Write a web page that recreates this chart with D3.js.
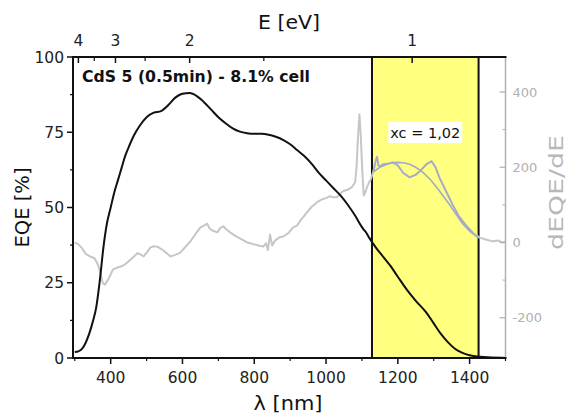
<!DOCTYPE html>
<html><head><meta charset="utf-8">
<script src="https://cdn.jsdelivr.net/npm/d3@7"></script>
<style>body{margin:0;background:#fff}svg{display:block}text{font-family:"DejaVu Sans",sans-serif}</style>
</head><body><div id="chart"></div>
<script>
// ---- data ----
const wl  = [300,310,320,330,340,350,360,370,380,390,400,410,420,430,440,450,465,480,500,520,540,560,580,600,620,640,660,680,700,720,740,760,780,800,820,840,860,880,900,920,940,960,980,1000,1020,1040,1060,1080,1100,1106,1110,1120,1140,1160,1180,1200,1225,1250,1280,1300,1320,1340,1360,1380,1400,1430,1460,1500];
const eqe = [2,2.2,3,5,8,12,17,26,37,45,50,55,59,63,67,70,74,77,80,81.5,82,84,86.5,87.8,88,87,85,82.5,80,78,76.3,75.2,74.7,74.5,74.5,74.2,73.5,72.5,71,69,67,64.5,61.5,59,56.5,54,51,47.5,43.5,42.5,42,40,36.5,33.5,30.5,27,22.7,19,15,11.5,8,5.2,3,1.7,0.9,0.4,0.2,0];
const dWl  = [300,310,320,330,345,355,365,372,378,384,392,400,406,415,428,440,450,462,475,485,492,502,511,520,530,545,558,567,580,594,608,622,636,650,660,669,675,683,697,705,714,722,733,742,752,765,780,789,800,812,825,833,838,844,850,858,870,881,895,908,919,930,947,960,975,990,1000,1011,1020,1030,1040,1047,1060,1072,1081,1085,1089,1093,1097,1101,1105,1110,1114,1120,1125,1132,1138,1142,1146,1150,1160,1175,1186,1200,1215,1233,1250,1261,1280,1294,1305,1317,1335,1353,1370,1392,1410,1428,1445,1464,1480,1492,1500];
const dEqe = [0,-5,-15,-30,-38,-42,-60,-85,-108,-112,-100,-85,-72,-68,-64,-58,-50,-40,-28,-33,-37,-25,-13,-10,-11,-20,-30,-37,-33,-27,-12,3,22,40,45,50,38,32,27,38,43,35,27,21,15,8,0,-2,-5,-8,-11,-2,-20,21,-8,5,14,16,25,40,45,60,80,95,107,115,118,123,120,120,130,136,140,147,160,200,280,341,280,190,125,135,147,160,168,190,215,228,205,203,208,210,213,205,185,173,180,189,208,216,200,170,135,100,70,43,25,13,8,3,5,0,2];
const fitWl  = [1131,1150,1175,1197,1215,1233,1250,1269,1290,1308,1326,1344,1360,1378,1400,1419,1425];
const fitVal = [187,200,210,213,212,208,200,187,168,147,124,101,78,53,30,16,12];
const highlight = [1128, 1425];           // yellow band, nm
const xTicks = [400,600,800,1000,1200,1400];
const xMinor = [300,500,700,900,1100,1300,1500];
const yTicks = [0,25,50,75,100];
const yMinor = [12.5,37.5,62.5,87.5];
const y2Ticks = [-200,0,200,400];
const y2Labels = ["-200","0","200","400"];
const y2Minor = [-100,100,300];
const eTicks = [4,3,2,1];
const eMinor = [3.5,2.5,1.5];
const titleText = "CdS 5 (0.5min) - 8.1% cell";
const fitText = "xc = 1,02";

// ---- layout ----
const W=571,H=417;
const svg=d3.select("#chart").append("svg").attr("width",W).attr("height",H);
const x=d3.scaleLinear().domain([295,1500]).range([73,505.5]);
const y=d3.scaleLinear().domain([0,100]).range([358,57]);
const y2=d3.scaleLinear().domain([-307,493]).range([358,57]);
const ex=e=>x(1240/e);
const L=73,R=505.5,T=57,B=358;
const gray="#c6c6c6", axGray="#b0b0b0", blueGray="#a3a9c9";

// highlight band
svg.append("rect").attr("x",x(highlight[0])).attr("y",T).attr("width",x(highlight[1])-x(highlight[0])).attr("height",B-T)
  .attr("fill","#ffff80").attr("stroke","#111").attr("stroke-width",2);

// curves
const lineD=d3.line().x(d=>x(d[0])).y(d=>y2(d[1])).curve(d3.curveLinear);
const dPts=dWl.map((w,i)=>[w,dEqe[i]]);
svg.append("path").attr("d",lineD(dPts)).attr("fill","none").attr("stroke",gray).attr("stroke-width",2).attr("stroke-linejoin","round");
svg.append("path").attr("d",lineD(dPts.filter(p=>p[0]>=highlight[0]&&p[0]<=highlight[1]))).attr("fill","none").attr("stroke",blueGray).attr("stroke-width",1.6);
svg.append("path").attr("d",lineD(fitWl.map((w,i)=>[w,fitVal[i]]))).attr("fill","none").attr("stroke",blueGray).attr("stroke-width",1.6);

const lineE=d3.line().x(d=>x(d[0])).y(d=>y(d[1])).curve(d3.curveMonotoneX);
svg.append("path").attr("d",lineE(wl.map((w,i)=>[w,eqe[i]]))).attr("fill","none").attr("stroke","#111").attr("stroke-width",2);

// fit label
const fx=(x(highlight[0])+x(highlight[1]))/2;
svg.append("rect").attr("x",fx-37).attr("y",122).attr("width",74).attr("height",21).attr("fill","#fff");
svg.append("text").attr("x",fx).attr("y",138).attr("text-anchor","middle").attr("font-size",14.5).attr("fill","#111").text(fitText);

// right axis (gray)
svg.append("line").attr("x1",R).attr("x2",R).attr("y1",T).attr("y2",B).attr("stroke",axGray).attr("stroke-width",1.5);
y2Ticks.forEach((v,i)=>{
  svg.append("line").attr("x1",R-6).attr("x2",R).attr("y1",y2(v)).attr("y2",y2(v)).attr("stroke",axGray).attr("stroke-width",1.2);
  svg.append("text").attr("x",R+7).attr("y",y2(v)).attr("dy","0.35em").attr("font-size",13).attr("fill",axGray).text(y2Labels[i]);
});
y2Minor.forEach(v=>svg.append("line").attr("x1",R-3).attr("x2",R).attr("y1",y2(v)).attr("y2",y2(v)).attr("stroke",axGray).attr("stroke-width",1));
svg.append("text").attr("transform",`translate(563,${(T+B)/2-15}) rotate(-90)`).attr("text-anchor","middle").attr("font-size",20)
  .attr("fill","#b8b8b8").attr("textLength",115).attr("lengthAdjust","spacingAndGlyphs").text("dEQE/dE");

// frame black lines
const blk="#111";
svg.append("line").attr("x1",L).attr("x2",R+1).attr("y1",T).attr("y2",T).attr("stroke",blk).attr("stroke-width",2);
svg.append("line").attr("x1",L).attr("x2",R+1).attr("y1",B).attr("y2",B).attr("stroke",blk).attr("stroke-width",2);
svg.append("line").attr("x1",L).attr("x2",L).attr("y1",T-1).attr("y2",B+1).attr("stroke",blk).attr("stroke-width",2);

// left axis
yTicks.forEach(v=>{
  svg.append("line").attr("x1",L-6).attr("x2",L).attr("y1",y(v)).attr("y2",y(v)).attr("stroke",blk).attr("stroke-width",1.5);
  svg.append("text").attr("x",L-9).attr("y",y(v)).attr("dy","0.36em").attr("text-anchor","end").attr("font-size",15.5).attr("fill","#222").text(v);
});
yMinor.forEach(v=>svg.append("line").attr("x1",L-3).attr("x2",L).attr("y1",y(v)).attr("y2",y(v)).attr("stroke",blk).attr("stroke-width",1.2));
svg.append("text").attr("transform",`translate(29,${(T+B)/2}) rotate(-90)`).attr("text-anchor","middle").attr("font-size",19)
  .attr("fill","#111").attr("textLength",80).attr("lengthAdjust","spacingAndGlyphs").text("EQE [%]");

// bottom axis
xTicks.forEach(v=>{
  svg.append("line").attr("x1",x(v)).attr("x2",x(v)).attr("y1",B).attr("y2",B+6).attr("stroke",blk).attr("stroke-width",1.5);
  svg.append("text").attr("x",x(v)).attr("y",383).attr("text-anchor","middle").attr("font-size",15.5).attr("fill","#222").text(v);
});
xMinor.forEach(v=>svg.append("line").attr("x1",x(v)).attr("x2",x(v)).attr("y1",B).attr("y2",B+3).attr("stroke",blk).attr("stroke-width",1.2));
svg.append("text").attr("x",288).attr("y",410).attr("text-anchor","middle").attr("font-size",20).attr("fill","#111")
  .attr("textLength",69).attr("lengthAdjust","spacingAndGlyphs").text("λ [nm]");

// top axis (energy)
eTicks.forEach(v=>{
  svg.append("line").attr("x1",ex(v)).attr("x2",ex(v)).attr("y1",T).attr("y2",T+6).attr("stroke",blk).attr("stroke-width",1.5);
  svg.append("text").attr("x",ex(v)).attr("y",46).attr("text-anchor","middle").attr("font-size",15.5).attr("fill","#222").text(v);
});
eMinor.forEach(v=>svg.append("line").attr("x1",ex(v)).attr("x2",ex(v)).attr("y1",T).attr("y2",T+4).attr("stroke",blk).attr("stroke-width",1.2));
svg.append("text").attr("x",289).attr("y",29).attr("text-anchor","middle").attr("font-size",20).attr("fill","#111")
  .attr("textLength",62).attr("lengthAdjust","spacingAndGlyphs").text("E [eV]");

// title
svg.append("text").attr("x",82).attr("y",82).attr("font-size",15.5).attr("font-weight","bold").attr("fill","#111")
  .attr("textLength",228).attr("lengthAdjust","spacingAndGlyphs").text(titleText);
</script></body></html>
